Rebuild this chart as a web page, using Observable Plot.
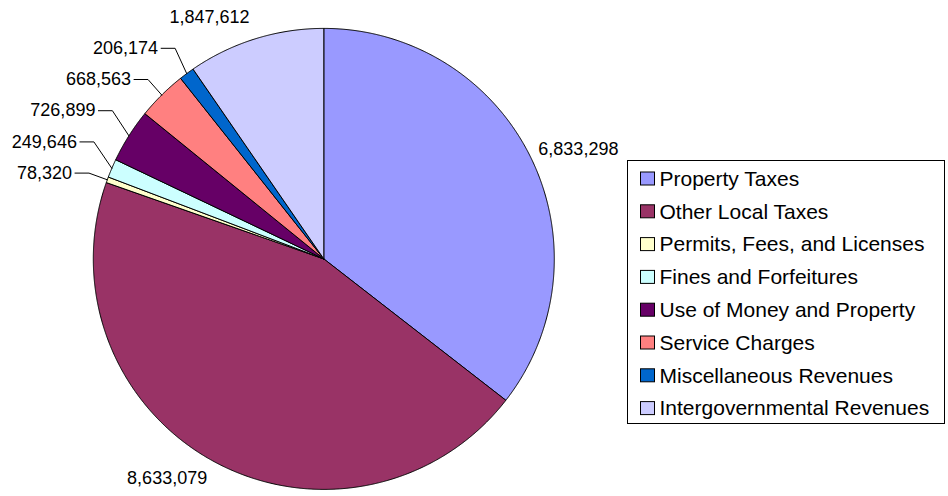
<!DOCTYPE html>
<html>
<head>
<meta charset="utf-8">
<script src="https://cdn.jsdelivr.net/npm/d3@7"></script>
<script src="https://cdn.jsdelivr.net/npm/@observablehq/plot@0.6"></script>
<style>
  html, body { margin: 0; padding: 0; background: #fff; }
  svg { display: block; }
</style>
</head>
<body>
<div id="chart"></div>
<script>
const categories = [
  "Property Taxes",
  "Other Local Taxes",
  "Permits, Fees, and Licenses",
  "Fines and Forfeitures",
  "Use of Money and Property",
  "Service Charges",
  "Miscellaneous Revenues",
  "Intergovernmental Revenues"
];
const values = [6833298, 8633079, 78320, 249646, 726899, 668563, 206174, 1847612];
const colors = ["#9999FF", "#993366", "#FFFFCC", "#CCFFFF", "#660066", "#FF8080", "#0066CC", "#CCCCFF"];
const valueLabels = ["6,833,298", "8,633,079", "78,320", "249,646", "726,899", "668,563", "206,174", "1,847,612"];

// layout
const W = 948, H = 496;
const cx = 323.3, cy = 258.4, R = 230.5;
const labelR = 250, labelGap = 31.2;
const FONT = "Liberation Sans, Arial, Helvetica, sans-serif";

const pie = d3.pie().sort(null).value(d => d.value)(
  categories.map((name, i) => ({name, value: values[i], color: colors[i], label: valueLabels[i]}))
);
const total = d3.sum(values);

const pt = (a, r) => [cx + r * Math.sin(a), cy - r * Math.cos(a)];

// slice polygons
const slices = pie.map(p => {
  const pts = [{x: cx, y: cy}];
  const n = Math.max(2, Math.ceil((p.endAngle - p.startAngle) / (Math.PI / 720)));
  for (let k = 0; k <= n; k++) {
    const a = p.startAngle + (p.endAngle - p.startAngle) * k / n;
    const [x, y] = pt(a, R);
    pts.push({x, y});
  }
  pts.push({x: cx, y: cy});
  return {p, pts};
});

// labels
const labels = pie.map(p => {
  const mid = (p.startAngle + p.endAngle) / 2;
  const [nx, ny] = pt(mid, labelR);
  return {p, mid, nx, ny, y: ny, left: Math.sin(mid) < 0, small: p.data.value / total < 0.05};
});
// stack left-side labels upward (Excel-like collision avoidance)
const leftLabels = labels.filter(l => l.left).sort((a, b) => a.mid - b.mid);
let prevY = Infinity;
for (const l of leftLabels) {
  l.y = Math.min(l.ny, prevY - labelGap);
  prevY = l.y;
}
const textData = labels.map(l => {
  let x, anchor;
  if (l.left) {
    x = l.small ? l.nx - 17 : l.nx + (l.ny > cy ? 3 : 0);
    anchor = "end";
  } else {
    x = l.nx - 10;
    anchor = "start";
  }
  return {x, y: l.y, text: l.p.data.label, anchor};
});
const leaders = labels.filter(l => l.left && l.small).map(l => {
  const [ex, ey] = pt(l.mid, R);
  return {name: l.p.data.name, pts: [
    {x: l.nx - 14, y: l.y},
    {x: l.nx, y: l.y},
    {x: ex, y: ey}
  ]};
});

// legend
const lgX1 = 627.5, lgX2 = 944.5, lgY1 = 160.5, lgY2 = 423.5;
const rowY0 = 178.5, rowStep = 32.8;
const legendRows = categories.map((name, i) => ({name, color: colors[i], y: rowY0 + i * rowStep}));

const marks = [];
for (const s of slices) {
  marks.push(Plot.line(s.pts, {x: "x", y: "y", fill: s.p.data.color, stroke: "black", strokeWidth: 1, strokeLinejoin: "miter", curve: "linear"}));
}
for (const l of leaders) {
  marks.push(Plot.line(l.pts, {x: "x", y: "y", stroke: "black", strokeWidth: 1, curve: "linear"}));
}
for (const anchor of ["start", "end"]) {
  marks.push(Plot.text(textData.filter(d => d.anchor === anchor), {
    x: "x", y: "y", text: "text", textAnchor: anchor, fontSize: 18, fill: "black", fontFamily: FONT
  }));
}
marks.push(Plot.rect([{}], {x1: lgX1, x2: lgX2, y1: lgY1, y2: lgY2, fill: "white", stroke: "black", strokeWidth: 1}));
marks.push(Plot.rect(legendRows, {x1: 640.5, x2: 654.5, y1: d => d.y - 6.5, y2: d => d.y + 6.5, fill: "color", stroke: "black", strokeWidth: 1}));
marks.push(Plot.text(legendRows, {x: 659, y: "y", text: "name", textAnchor: "start", fontSize: 21, fill: "black", fontFamily: FONT}));

const chart = Plot.plot({
  width: W,
  height: H,
  margin: 0,
  x: {domain: [0, W], range: [0, W], axis: null},
  y: {domain: [0, H], range: [0, H], axis: null},
  color: {type: "identity"},
  style: {fontFamily: FONT, background: "white", overflow: "visible"},
  marks
});
document.getElementById("chart").appendChild(chart);
</script>
</body>
</html>
